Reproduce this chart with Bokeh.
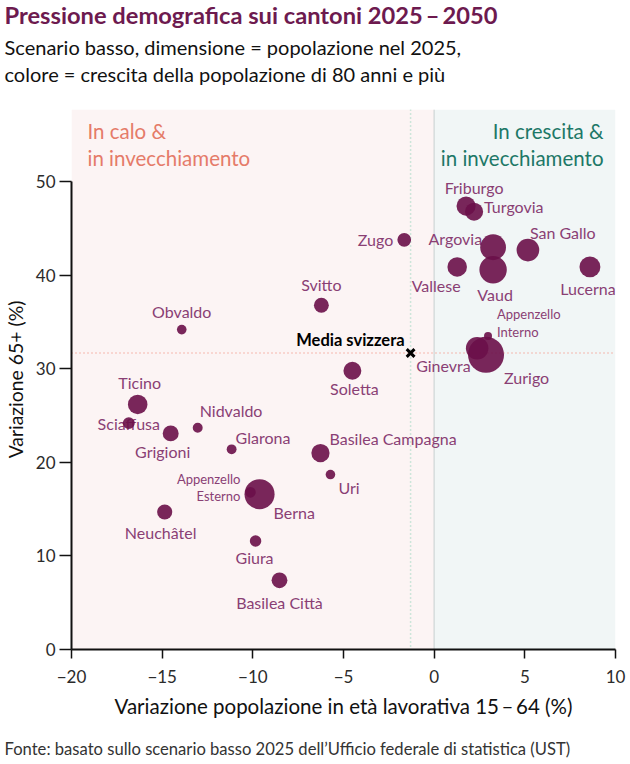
import math

from bokeh.core.properties import value
from bokeh.embed import file_html
from bokeh.models import BoxAnnotation, ColumnDataSource, FixedTicker, Label, Span, Title
from bokeh.plotting import figure
from bokeh.resources import INLINE

# --- data -----------------------------------------------------------------
cantons = [
    "Zurigo", "Berna", "Lucerna", "Uri", "Svitto", "Obvaldo", "Nidvaldo",
    "Glarona", "Zugo", "Friburgo", "Soletta", "Basilea Città",
    "Basilea Campagna", "Sciaffusa", "Appenzello Esterno", "Appenzello Interno",
    "San Gallo", "Grigioni", "Argovia", "Turgovia", "Ticino", "Vaud",
    "Vallese", "Neuchâtel", "Ginevra", "Giura",
]
# change of the 15-64 population 2025-2050 (%)
working_age_change = [
    2.86, -9.63, 8.59, -5.72, -6.22, -13.92, -13.04,
    -11.17, -1.65, 1.76, -4.51, -8.53,
    -6.27, -16.84, -10.13, 2.97,
    5.17, -14.53, 3.25, 2.20, -16.35, 3.25,
    1.27, -14.86, 2.37, -9.85,
]
# change of the 65+ population 2025-2050 (%)
over65_change = [
    31.5, 16.6, 40.9, 18.7, 36.8, 34.2, 23.7,
    21.4, 43.8, 47.4, 29.8, 7.4,
    21.0, 24.2, 16.8, 33.5,
    42.7, 23.1, 43.0, 46.8, 26.2, 40.6,
    40.9, 14.7, 32.2, 11.6,
]
# resident population 2025 (thousands)
population_2025 = [
    1620, 1060, 430, 38, 168, 39, 44,
    42, 133, 340, 285, 200,
    300, 85, 56, 17,
    530, 205, 730, 295, 360, 850,
    360, 177, 520, 74,
]
swiss_mean_x = -1.3
swiss_mean_y = 31.7

x_ticks = [-20, -15, -10, -5, 0, 5, 10]
y_ticks = [0, 10, 20, 30, 40, 50]

# --- label placement (pixel offsets from the bubble centre) ---------------
LABEL_LAYOUT = {
    "Zurigo": (18, 23, "left"),
    "Berna": (14, 18, "left"),
    "Lucerna": (-2, 22, "center"),
    "Uri": (8, 13, "left"),
    "Svitto": (0, -21, "center"),
    "Obvaldo": (0, -18, "center"),
    "Nidvaldo": (2, -17, "left"),
    "Glarona": (4, -12, "left"),
    "Zugo": (-11, 0, "right"),
    "Friburgo": (8, -19, "center"),
    "Soletta": (2, 18, "center"),
    "Basilea Città": (0, 22, "center"),
    "Basilea Campagna": (9, -15, "left"),
    "Sciaffusa": (0, 0, "center"),
    "Appenzello Esterno": (-10, -5, "right"),
    "Appenzello Interno": (9, -13, "left"),
    "San Gallo": (2, -18, "left"),
    "Grigioni": (-8, 18, "center"),
    "Argovia": (-11, -9, "right"),
    "Turgovia": (10, -5, "left"),
    "Ticino": (2, -22, "center"),
    "Vaud": (2, 25, "center"),
    "Vallese": (-21, 19, "center"),
    "Neuchâtel": (-4, 21, "center"),
    "Ginevra": (-61, 17, "left"),
    "Giura": (-1, 17, "center"),
}
TWO_LINE = {"Appenzello Esterno", "Appenzello Interno"}

FONT = "Lato"
BUBBLE = "#6a1049"
LABEL = "#8a3f74"
TITLE = "#6d1a4f"

# frame geometry in pixels
W, H = 630, 764
FL, FR, FT, FB = 70, 615, 111, 649
X0, X1 = -20, 10
PX_PER_Y = (FB - 183) / 50.0
Y1 = (FB - FT) / PX_PER_Y


def px_to_x(px):
    return X0 + (px - FL) * (X1 - X0) / (FR - FL)


def px_to_y(py):
    return (FB - py) / PX_PER_Y


def bubble_diameter(pop):
    return 2 * (2.4 + 0.388 * math.sqrt(pop))


p = figure(
    width=W, height=H, x_range=(X0, X1), y_range=(0, Y1),
    output_backend="svg", toolbar_location=None,
    min_border_left=FL, min_border_right=W - FR,
    min_border_top=0, min_border_bottom=0,
)
p.outline_line_color = None
p.background_fill_color = "white"
p.border_fill_color = "white"
p.grid.visible = False


def header(text, size, standoff, style="normal", color="#111111"):
    return Title(text=text, text_font=FONT, text_font_size=size,
                 text_font_style=style, text_color=color, align="left",
                 offset=-(FL - 3), standoff=standoff)


# header block, stacked outward from the frame (first added sits lowest)
p.add_layout(header(" ", "20px", 2.8), "above")
p.add_layout(header("colore = crescita della popolazione di 80 anni e più",
                    "20px", -11), "above")
p.add_layout(header("Scenario basso, dimensione = popolazione nel 2025,",
                    "20px", 12.8), "above")
p.add_layout(header("Pressione demografica sui cantoni 2025\u2009\u2013\u20092050",
                    "23.7px", -4, style="bold", color=TITLE), "above")

# quadrant backgrounds
p.add_layout(BoxAnnotation(left=X0, right=0, fill_color="#fcf4f4", fill_alpha=1,
                           line_color=None, level="underlay"))
p.add_layout(BoxAnnotation(left=0, right=X1, fill_color="#f1f6f6", fill_alpha=1,
                           line_color=None, level="underlay"))
p.add_layout(Span(location=0, dimension="height", line_color="#d6dcdc",
                  line_width=1.5, level="underlay"))
p.add_layout(Span(location=swiss_mean_x, dimension="height", line_color="#9ed6bf",
                  line_width=1.5, line_dash="1 3", level="underlay"))
p.add_layout(Span(location=swiss_mean_y, dimension="width", line_color="#f3a597",
                  line_width=1.5, line_dash="1 3", level="underlay"))

# axes
for ax in (p.xaxis[0], p.yaxis[0]):
    ax.axis_line_color = "#111111"
    ax.axis_line_width = 2
    ax.major_tick_line_color = "#111111"
    ax.major_tick_line_width = 1.5
    ax.major_tick_in = 0
    ax.minor_tick_line_color = None
    ax.major_label_text_font = FONT
    ax.major_label_text_font_size = "17px"
    ax.major_label_text_color = "#2b2b2b"
    ax.axis_label_text_font = FONT
    ax.axis_label_text_font_style = "normal"
    ax.axis_label_text_color = "#111111"

p.xaxis.ticker = FixedTicker(ticks=x_ticks)
p.xaxis.major_label_overrides = {t: str(t).replace("-", "\u2212") for t in x_ticks}
p.xaxis.major_tick_out = 9
p.xaxis.major_label_standoff = 11
p.xaxis.axis_label = "Variazione popolazione in età lavorativa 15\u2009\u2013\u200964 (%)"
p.xaxis.axis_label_text_font_size = "20.5px"
p.xaxis.axis_label_standoff = 8

p.yaxis.ticker = FixedTicker(ticks=y_ticks)
p.yaxis.bounds = (0, 50)
p.yaxis.major_tick_out = 12
p.yaxis.major_label_standoff = 4
p.yaxis.axis_label = "Variazione 65+ (%)"
p.yaxis.axis_label_text_font_size = "19.4px"
p.yaxis.axis_label_standoff = 6

# gap and source line under the axis
p.add_layout(header(" ", "1px", 7.4), "below")
p.add_layout(header("Fonte: basato sullo scenario basso 2025 dell\u2019Ufficio federale di statistica (UST)",
                    "16.6px", 10.8, color="#333333"), "below")

# quadrant captions
for txt, py in (("In calo &", 132), ("in invecchiamento", 159)):
    p.add_layout(Label(x=px_to_x(86), y=px_to_y(py), text=txt, text_font=FONT,
                       text_font_size="20.5px", text_color="#e57b69",
                       text_baseline="middle", text_align="left"))
for txt, py in (("In crescita &", 132), ("in invecchiamento", 159)):
    p.add_layout(Label(x=px_to_x(603), y=px_to_y(py), text=txt, text_font=FONT,
                       text_font_size="20.5px", text_color="#1d7867",
                       text_baseline="middle", text_align="right"))

# canton name labels, drawn before the bubbles so the bubbles sit on top
groups = {}
for name, x, y in zip(cantons, working_age_change, over65_change):
    dx, dy, align = LABEL_LAYOUT[name]
    small = name in TWO_LINE
    text = name.replace(" ", "\n") if small else name
    key = (align, small)
    g = groups.setdefault(key, dict(x=[], y=[], text=[], dx=[], dy=[]))
    g["x"].append(x)
    g["y"].append(y)
    g["text"].append(text)
    g["dx"].append(dx)
    g["dy"].append(dy)

for (align, small), g in groups.items():
    p.text(x="x", y="y", text="text", x_offset="dx", y_offset="dy",
           source=ColumnDataSource(g), text_font=value(FONT),
           text_font_size="13px" if small else "16px",
           text_color=LABEL, text_align=align, text_baseline="middle",
           text_line_height=1.1)

# bubbles
src = ColumnDataSource(dict(
    x=working_age_change, y=over65_change, name=cantons,
    size=[bubble_diameter(v) for v in population_2025],
))
p.scatter(x="x", y="y", size="size", source=src, marker="circle",
          fill_color=BUBBLE, fill_alpha=0.9, line_color=None)

# Swiss average
p.scatter(x=[swiss_mean_x], y=[swiss_mean_y], marker="x", size=11,
          line_color="#000000", line_width=3)
p.text(x=[swiss_mean_x], y=[swiss_mean_y], text=["Media svizzera"],
       x_offset=-6, y_offset=-13, text_font=value(FONT), text_font_size="16.5px",
       text_font_style="bold", text_color="#000000", text_align="right",
       text_baseline="middle")

open("out.html", "w").write(file_html(p, INLINE))
